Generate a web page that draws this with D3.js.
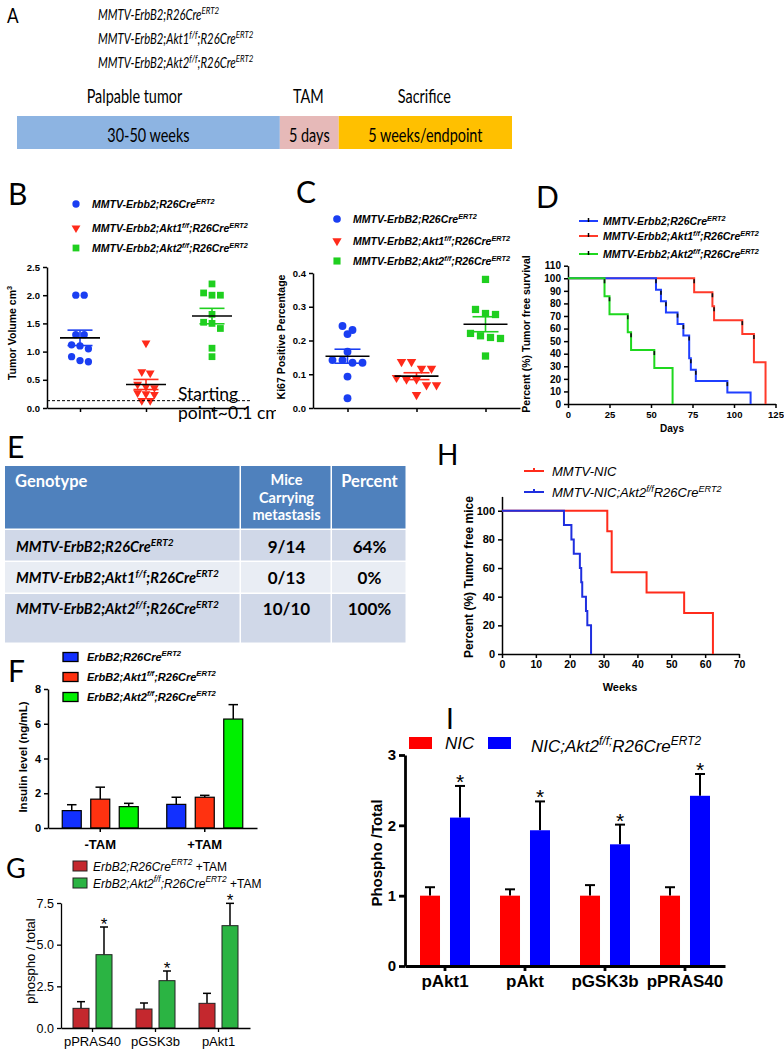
<!DOCTYPE html>
<html><head><meta charset="utf-8">
<script src="https://cdn.jsdelivr.net/npm/d3@7"></script>
<style>body{margin:0;background:#fff}svg{display:block}</style>
</head><body><svg id="c" width="784" height="1050"></svg>
<script>
// ---------------- DATA ----------------
// A: timeline
const cohortGenotypes = ["MMTV-ErbB2;R26Cre^{ERT2}", "MMTV-ErbB2;Akt1^{f/f};R26Cre^{ERT2}", "MMTV-ErbB2;Akt2^{f/f};R26Cre^{ERT2}"];
const timelineStages = ["Palpable tumor", "TAM", "Sacrifice"];
const timelineDurations = ["30-50 weeks", "5 days", "5 weeks/endpoint"];
// B: tumor volume
const tumorGroupsB = ["MMTV-Erbb2;R26Cre^{ERT2}", "MMTV-Erbb2;Akt1^{f/f};R26Cre^{ERT2}", "MMTV-Erbb2;Akt2^{f/f};R26Cre^{ERT2}"];
const tumorVolWT = [2.0, 2.0, 1.3, 1.3, 1.12, 1.1, 1.05, 0.91, 0.84, 0.82];
const tumorVolAkt1 = [1.15, 0.64, 0.62, 0.42, 0.38, 0.36, 0.27, 0.25, 0.24, 0.13, 0.13];
const tumorVolAkt2 = [2.2, 2.04, 2.0, 2.0, 1.66, 1.52, 1.5, 1.41, 1.06, 0.91];
const tumorTicks = [0, 0.5, 1.0, 1.5, 2.0, 2.5];
const startingPoint = 0.13;
// C: Ki67
const ki67Groups = ["MMTV-ErbB2;R26Cre^{ERT2}", "MMTV-ErbB2;Akt1^{f/f};R26Cre^{ERT2}", "MMTV-ErbB2;Akt2^{f/f};R26Cre^{ERT2}"];
const ki67WT = [0.243, 0.231, 0.219, 0.167, 0.142, 0.142, 0.134, 0.134, 0.093, 0.029];
const ki67Akt1 = [0.137, 0.137, 0.117, 0.117, 0.09, 0.085, 0.085, 0.068, 0.068, 0.039];
const ki67Akt2 = [0.381, 0.292, 0.28, 0.277, 0.221, 0.214, 0.209, 0.206, 0.154];
const ki67Ticks = [0, 0.1, 0.2, 0.3, 0.4];
// D: survival (days)
const survGroupsD = ["MMTV-Erbb2;R26Cre^{ERT2}", "MMTV-Erbb2;Akt1^{f/f};R26Cre^{ERT2}", "MMTV-Erbb2;Akt2^{f/f};R26Cre^{ERT2}"];
const kmWTdays = [53, 56, 59, 66, 69.5, 73, 74, 77, 96, 110];
const kmWTsurv = [90.9, 81.8, 72.7, 63.6, 54.5, 36.4, 27.3, 18.2, 9.1, 0];
const kmAkt1days = [76, 87, 88, 105, 112, 119];
const kmAkt1surv = [88.9, 77.8, 66.7, 55.6, 33.3, 0];
const kmAkt2days = [22, 25, 36, 38, 52, 63];
const kmAkt2surv = [85.7, 71.4, 57.1, 42.9, 28.6, 0];
const daysTicks = [0, 25, 50, 75, 100, 125];
const survTicks = [0, 10, 20, 30, 40, 50, 60, 70, 80, 90, 100, 110];
// E: metastasis table
const tableHeader = ["Genotype", "Mice\nCarrying\nmetastasis", "Percent"];
const metaGenotypes = ["MMTV-ErbB2;R26Cre^{ERT2}", "MMTV-ErbB2;Akt1^{f/f};R26Cre^{ERT2}", "MMTV-ErbB2;Akt2^{f/f};R26Cre^{ERT2}"];
const metaCarrying = ["9/14", "0/13", "10/10"];
const metaPercent = ["64%", "0%", "100%"];
// F: insulin
const insulinConditions = ["-TAM", "+TAM"];
const insulinGroups = ["ErbB2;R26Cre^{ERT2}", "ErbB2;Akt1^{f/f};R26Cre^{ERT2}", "ErbB2;Akt2^{f/f};R26Cre^{ERT2}"];
const insulinWT = [1.0, 1.36], insulinWTerr = [0.34, 0.41];
const insulinAkt1 = [1.66, 1.77], insulinAkt1err = [0.69, 0.11];
const insulinAkt2 = [1.23, 6.27], insulinAkt2err = [0.19, 0.83];
const insulinTicks = [0, 2, 4, 6, 8];
// G: phospho/total
const phosGroups = ["ErbB2;R26Cre^{ERT2}~{ +TAM}", "ErbB2;Akt2^{f/f};R26Cre^{ERT2}~{ +TAM}"];
const phosCats = ["pPRAS40", "pGSK3b", "pAkt1"];
const phosWT = [1.18, 1.14, 1.48], phosWTerr = [0.40, 0.36, 0.60];
const phosAkt2 = [4.40, 2.84, 6.14], phosAkt2err = [1.66, 0.58, 1.34];
const phosTicks = [0, 2.5, 5.0, 7.5];
// H: survival (weeks)
const nicGroupsH = ["MMTV-NIC", "MMTV-NIC;Akt2^{f/f}R26Cre^{ERT2}"];
const hNICweeks = [31.1, 32.4, 42.7, 53.8, 62.3];
const hNICsurv = [85.7, 57.1, 42.9, 28.6, 0];
const hAkt2weeks = [18.3, 20.5, 21.2, 23.0, 23.4, 23.7, 24.8, 25.2, 26.3];
const hAkt2surv = [90, 80, 70, 60, 50, 40, 30, 20, 0];
const weekTicks = [0, 10, 20, 30, 40, 50, 60, 70];
const hSurvTicks = [0, 20, 40, 60, 80, 100];
// I: NIC phospho
const nicGroupsI = ["NIC", "NIC;Akt2^{f/f;}R26Cre^{ERT2}"];
const nicCats = ["pAkt1", "pAkt", "pGSK3b", "pPRAS40"];
const nicWT = [1, 1, 1, 1], nicWTerr = [0.12, 0.09, 0.15, 0.12];
const nicAkt2 = [2.11, 1.93, 1.73, 2.42], nicAkt2err = [0.45, 0.41, 0.28, 0.31];
const nicTicks = [0, 1, 2, 3];

// ---------------- HELPERS ----------------
const svg = d3.select("#c");
svg.append("rect").attr("width", 784).attr("height", 1050).attr("fill", "#fff");
const ARIAL = "'Liberation Sans', Arial, sans-serif";
const CAL = "Lato, 'Open Sans', sans-serif";

function rich(g, str, o) {
  const size = o.size || 12;
  const t = g.append("text")
    .attr("x", o.x || 0).attr("y", o.y || 0)
    .attr("font-family", o.family || ARIAL).attr("font-size", size)
    .attr("font-weight", o.weight || "normal").attr("font-style", o.style || "normal")
    .attr("fill", o.fill || "#000").attr("text-anchor", o.anchor || "start");
  if (o.transform) t.attr("transform", o.transform);
  const parts = str.split(/(\^\{[^}]*\}|~\{[^}]*\})/).filter(s => s.length);
  let up = false;
  parts.forEach(p => {
    const ts = t.append("tspan");
    let m;
    if ((m = p.match(/^\^\{([^}]*)\}$/))) {
      ts.text(m[1]).attr("font-size", size * 0.7).attr("dy", -size * 0.42);
      up = true;
    } else {
      if ((m = p.match(/^~\{([^}]*)\}$/))) { ts.text(m[1]).attr("font-style", "normal"); }
      else ts.text(p);
      if (up) { ts.attr("dy", size * 0.42); up = false; }
    }
  });
  return t;
}
function styleAxis(sel, o) {
  sel.selectAll("path.domain").attr("stroke-width", o.sw || 1.5).attr("stroke", "#000");
  sel.selectAll(".tick line").attr("stroke-width", o.sw || 1.5).attr("stroke", "#000");
  sel.selectAll(".tick text").attr("font-family", ARIAL).attr("font-size", o.size)
    .attr("font-weight", o.weight || "bold").attr("fill", "#000");
}
function panelLetter(ch, x, y, size) {
  svg.append("text").attr("x", x).attr("y", y).attr("font-family", CAL)
    .attr("font-size", size || 30).attr("fill", "#000").text(ch);
}
function dotPlot(g, vals, cx, y, sym, color, gap, rowPx, rot, meanHalf, semHalf) {
  const s = vals.slice().sort((a, b) => b - a);
  const rows = [];
  s.forEach(v => {
    const last = rows[rows.length - 1];
    if (last && (y(v) - y(last[0])) < rowPx) last.push(v); else rows.push([v]);
  });
  const pts = [];
  rows.forEach(r => r.forEach((v, i) => pts.push({ v, dx: (i - (r.length - 1) / 2) * gap })));
  g.selectAll(null).data(pts).join("path")
    .attr("d", d3.symbol().type(sym.type).size(sym.size))
    .attr("transform", d => `translate(${cx + d.dx},${y(d.v)}) rotate(${rot || 0})`)
    .attr("fill", color);
  const m = d3.mean(vals), se = d3.deviation(vals) / Math.sqrt(vals.length);
  const sg = g.append("g").attr("stroke", color).attr("stroke-width", 1.6);
  sg.append("line").attr("x1", cx).attr("x2", cx).attr("y1", y(m + se)).attr("y2", y(m - se));
  [m + se, m - se].forEach(v => sg.append("line").attr("x1", cx - semHalf).attr("x2", cx + semHalf).attr("y1", y(v)).attr("y2", y(v)));
  g.append("line").attr("x1", cx - meanHalf).attr("x2", cx + meanHalf).attr("y1", y(m)).attr("y2", y(m))
    .attr("stroke", "#000").attr("stroke-width", 1.6);
}
const SYM = {
  circle: { type: d3.symbolCircle, size: 42 },
  tri: { type: d3.symbolTriangle, size: 34 },
  square: { type: d3.symbolSquare, size: 46 }
};

// ---------------- PANEL A ----------------
{
  const g = svg.append("g");
  const SX = 0.78;
  g.append("text").attr("transform", `translate(7,23) scale(${SX},1)`).attr("font-family", CAL)
    .attr("font-size", 22).text("A");
  const yA = d3.scalePoint().domain(d3.range(cohortGenotypes.length)).range([20, 68]);
  cohortGenotypes.forEach((s, i) => rich(g, s, { transform: `translate(98,${yA(i)}) scale(${SX},1)`, family: CAL, size: 14.5, style: "italic" }));
  const frac = [0, 0.531, 0.65, 1];
  const xA = d3.scaleLinear().domain([0, 1]).range([17, 512]);
  const cols = ["#8DB4E2", "#E6B9B8", "#FFC000"];
  timelineStages.forEach((s, i) => {
    const x0 = xA(frac[i]), x1 = xA(frac[i + 1]);
    g.append("rect").attr("x", x0).attr("y", 116).attr("width", x1 - x0).attr("height", 33).attr("fill", cols[i]);
    const cx = (x0 + x1) / 2;
    const hx = i === 0 ? cx - 14 : cx - 1;
    g.append("text").attr("transform", `translate(${hx},103) scale(${SX},1)`).attr("text-anchor", "middle")
      .attr("font-family", CAL).attr("font-size", 18.5).text(s);
    g.append("text").attr("transform", `translate(${cx},141.5) scale(${SX},1)`).attr("text-anchor", "middle")
      .attr("font-family", CAL).attr("font-size", 18.5).text(timelineDurations[i]);
  });
}

// ---------------- PANEL B ----------------
{
  const g = svg.append("g");
  panelLetter("B", 8, 205);
  const y = d3.scaleLinear().domain([0, 2.5]).range([408, 267]);
  const x = d3.scalePoint().domain([0, 1, 2]).range([47, 245]).padding(0.5);
  const colors = ["#1A3EF2", "#FF2A1A", "#1FCF1F"];
  const syms = [SYM.circle, SYM.tri, SYM.square];
  const rots = [0, 180, 0];
  const legY = [204, 228, 248];
  tumorGroupsB.forEach((s, i) => {
    g.append("path").attr("d", d3.symbol().type(syms[i].type).size(syms[i].size))
      .attr("transform", `translate(76,${legY[i]}) rotate(${rots[i]})`).attr("fill", colors[i]);
    rich(g, s, { x: 92, y: legY[i] + 4, size: 10.5, weight: "bold", style: "italic" });
  });
  g.append("g").attr("transform", "translate(47,0)")
    .call(d3.axisLeft(y).tickValues(tumorTicks).tickFormat(d3.format(".1f")).tickSize(4).tickSizeOuter(0))
    .call(styleAxis, { size: 9.5 });
  g.append("g").attr("transform", "translate(0,408)")
    .call(d3.axisBottom(x).tickFormat("").tickSize(4).tickSizeOuter(0))
    .call(styleAxis, { size: 9.5 });
  [tumorVolWT, tumorVolAkt1, tumorVolAkt2].forEach((vals, i) =>
    dotPlot(g, vals, x(i), y, syms[i], colors[i], 8.4, 7.5, rots[i], 20, 12.5));
  g.append("line").attr("x1", 47).attr("x2", 250).attr("y1", y(startingPoint)).attr("y2", y(startingPoint))
    .attr("stroke", "#000").attr("stroke-width", 1).attr("stroke-dasharray", "3,2");
  g.append("text").attr("x", 178).attr("y", 400).attr("font-family", CAL).attr("font-size", 17.5).text("Starting");
  svg.append("clipPath").attr("id", "clipB").append("rect").attr("x", 0).attr("y", 400).attr("width", 276).attr("height", 30);
  rich(g.append("g").attr("clip-path", "url(#clipB)"), "point~0.1 cm^{3}", { x: 178, y: 419, family: CAL, size: 17.5 });
  rich(g, "Tumor  Volume cm^{3}", { transform: "translate(16,333) rotate(-90)", anchor: "middle", size: 10.5, weight: "bold" });
}

// ---------------- PANEL C ----------------
{
  const g = svg.append("g");
  panelLetter("C", 296, 203);
  const y = d3.scaleLinear().domain([0, 0.4]).range([408, 273]);
  const x = d3.scalePoint().domain([0, 1, 2]).range([313, 520]).padding(0.5);
  const colors = ["#1A3EF2", "#FF2A1A", "#1FCF1F"];
  const syms = [SYM.circle, SYM.tri, SYM.square];
  const rots = [0, 180, 0];
  const legY = [219, 241, 261];
  ki67Groups.forEach((s, i) => {
    g.append("path").attr("d", d3.symbol().type(syms[i].type).size(syms[i].size * 1.1))
      .attr("transform", `translate(337,${legY[i]}) rotate(${rots[i]})`).attr("fill", colors[i]);
    rich(g, s, { x: 353, y: legY[i] + 4, size: 10.5, weight: "bold", style: "italic" });
  });
  g.append("g").attr("transform", "translate(313,0)")
    .call(d3.axisLeft(y).tickValues(ki67Ticks).tickFormat(d3.format(".1f")).tickSize(4).tickSizeOuter(0))
    .call(styleAxis, { size: 9.5 });
  g.append("g").attr("transform", "translate(0,408)")
    .call(d3.axisBottom(x).tickFormat("").tickSize(4).tickSizeOuter(0))
    .call(styleAxis, { size: 9.5 });
  [ki67WT, ki67Akt1, ki67Akt2].forEach((vals, i) =>
    dotPlot(g, vals, x(i), y, { type: syms[i].type, size: syms[i].size * 1.15 }, colors[i], 10, 7.5, rots[i], 22, 13));
  g.append("text").attr("transform", "translate(285,337) rotate(-90)").attr("text-anchor", "middle")
    .attr("font-family", ARIAL).attr("font-size", 10.5).attr("font-weight", "bold").text("Ki67 Positive Percentage");
}

// ---------------- PANEL D ----------------
{
  const g = svg.append("g");
  panelLetter("D", 536, 208);
  const x = d3.scaleLinear().domain([0, 125]).range([568, 775.5]);
  const y = d3.scaleLinear().domain([0, 110]).range([404, 265.7]);
  const colors = ["#1F3FFF", "#FF3A2A", "#1ED81E"];
  const legY = [221, 236, 254];
  survGroupsD.forEach((s, i) => {
    g.append("line").attr("x1", 579).attr("x2", 598).attr("y1", legY[i]).attr("y2", legY[i]).attr("stroke", colors[i]).attr("stroke-width", 2);
    g.append("line").attr("x1", 588.5).attr("x2", 588.5).attr("y1", legY[i] - 3).attr("y2", legY[i] + 1).attr("stroke", "#000").attr("stroke-width", 1.5);
    rich(g, s, { x: 603, y: legY[i] + 4, size: 10.5, weight: "bold", style: "italic" });
  });
  g.append("g").attr("transform", "translate(568,0)")
    .call(d3.axisLeft(y).tickValues(survTicks).tickSize(4).tickSizeOuter(0)).call(styleAxis, { size: 10 });
  g.append("g").attr("transform", "translate(0,404)")
    .call(d3.axisBottom(x).tickValues(daysTicks).tickSize(4).tickSizeOuter(0)).call(styleAxis, { size: 9.5 });
  const series = [[kmAkt1days, kmAkt1surv], [kmWTdays, kmWTsurv], [kmAkt2days, kmAkt2surv]];
  const colIdx = [1, 0, 2];
  const line = d3.line().x(d => x(d[0])).y(d => y(d[1])).curve(d3.curveStepAfter);
  series.forEach(([days, surv], k) => {
    const pts = [[0, 100]].concat(days.map((d, i) => [d, surv[i]]));
    g.append("path").attr("d", line(pts)).attr("fill", "none").attr("stroke", colors[colIdx[k]]).attr("stroke-width", 2);
    days.forEach((d, i) => {
      if (surv[i] === 0) return;
      const prev = i === 0 ? 100 : surv[i - 1];
      g.append("line").attr("x1", x(d)).attr("x2", x(d)).attr("y1", y(prev) + 1).attr("y2", y(prev) + 5)
        .attr("stroke", "#111").attr("stroke-width", 1.6);
    });
  });
  g.append("text").attr("transform", "translate(530,334) rotate(-90)").attr("text-anchor", "middle")
    .attr("font-family", ARIAL).attr("font-size", 10.5).attr("font-weight", "bold").text("Percent (%) Tumor free survival");
  g.append("text").attr("x", 672).attr("y", 432).attr("text-anchor", "middle")
    .attr("font-family", ARIAL).attr("font-size", 10).attr("font-weight", "bold").text("Days");
}

// ---------------- PANEL E ----------------
{
  const g = svg.append("g");
  panelLetter("E", 7, 458);
  const colX = [5, 241, 332, 407];
  const rowY = [466, 530, 562, 594, 644];
  const fills = ["#4F81BD", "#D0D8E8", "#E9EDF4", "#D0D8E8"];
  for (let r = 0; r < 4; r++) for (let c = 0; c < 3; c++) {
    g.append("rect").attr("x", colX[c]).attr("y", rowY[r]).attr("width", colX[c + 1] - colX[c] - 1.5)
      .attr("height", rowY[r + 1] - rowY[r] - 1.5).attr("fill", fills[r]);
  }
  const cxs = [15, (colX[1] + colX[2]) / 2, (colX[2] + colX[3]) / 2];
  tableHeader.forEach((h, c) => {
    const lines = h.split("\n");
    lines.forEach((ln, k) => {
      g.append("text").attr("x", cxs[c]).attr("y", lines.length > 1 ? 485 + k * 17.5 : 487)
        .attr("text-anchor", c === 0 ? "start" : "middle").attr("font-family", CAL).attr("font-weight", "bold")
        .attr("font-size", lines.length > 1 ? 14.5 : 16.5).attr("fill", "#fff").text(ln);
    });
  });
  const base = [552, 583, 614];
  metaGenotypes.forEach((s, r) => {
    rich(g, s, { x: 16, y: base[r], family: CAL, size: 14.5, weight: "bold", style: "italic" });
    g.append("text").attr("x", cxs[1]).attr("y", base[r] + 1).attr("text-anchor", "middle").attr("font-family", CAL)
      .attr("font-weight", "bold").attr("font-size", 17).text(metaCarrying[r]);
    g.append("text").attr("x", cxs[2]).attr("y", base[r] + 1).attr("text-anchor", "middle").attr("font-family", CAL)
      .attr("font-weight", "bold").attr("font-size", 17).text(metaPercent[r]);
  });
}

// ---------------- PANEL F ----------------
{
  const g = svg.append("g");
  panelLetter("F", 8, 682);
  const y = d3.scaleLinear().domain([0, 8]).range([828, 689]);
  const x = d3.scaleBand().domain(insulinConditions).range([48, 257]);
  const colors = ["#1230FF", "#FF3210", "#00F000"];
  const legY = [657, 677, 697];
  insulinGroups.forEach((s, i) => {
    g.append("rect").attr("x", 63).attr("y", legY[i] - 4.5).attr("width", 15).attr("height", 9)
      .attr("fill", colors[i]).attr("stroke", "#000").attr("stroke-width", 1.3);
    rich(g, s, { x: 87, y: legY[i] + 4, size: 11, weight: "bold", style: "italic" });
  });
  const vals = [insulinWT, insulinAkt1, insulinAkt2], errs = [insulinWTerr, insulinAkt1err, insulinAkt2err];
  insulinConditions.forEach((cond, ci) => {
    const cx = x(cond) + x.bandwidth() / 2;
    const inner = d3.scaleBand().domain([0, 1, 2]).range([cx - 38, cx + 38]).paddingInner(0.333);
    [0, 1, 2].forEach(s => {
      const v = vals[s][ci], e = errs[s][ci], bx = inner(s), bw = inner.bandwidth();
      g.append("line").attr("x1", bx + bw / 2).attr("x2", bx + bw / 2).attr("y1", y(v)).attr("y2", y(v + e)).attr("stroke", "#000").attr("stroke-width", 1.5);
      g.append("line").attr("x1", bx + bw / 4).attr("x2", bx + bw * 3 / 4).attr("y1", y(v + e)).attr("y2", y(v + e)).attr("stroke", "#000").attr("stroke-width", 1.5);
      g.append("rect").attr("x", bx).attr("y", y(v)).attr("width", bw).attr("height", y(0) - y(v))
        .attr("fill", colors[s]).attr("stroke", "#000").attr("stroke-width", 1.2);
    });
  });
  g.append("g").attr("transform", "translate(48,0)")
    .call(d3.axisLeft(y).tickValues(insulinTicks).tickSize(4).tickSizeOuter(0)).call(styleAxis, { size: 11 });
  g.append("g").attr("transform", "translate(0,828)")
    .call(d3.axisBottom(x).tickSize(4).tickSizeOuter(0).tickPadding(8)).call(styleAxis, { size: 13 });
  g.append("text").attr("transform", "translate(27,757) rotate(-90)").attr("text-anchor", "middle")
    .attr("font-family", ARIAL).attr("font-size", 11.5).attr("font-weight", "bold").text("Insulin level (ng/mL)");
}

// ---------------- PANEL G ----------------
{
  const g = svg.append("g");
  panelLetter("G", 6, 878, 27);
  const y = d3.scaleLinear().domain([0, 7.5]).range([1028, 903]);
  const x = d3.scaleBand().domain(phosCats).range([61, 250]);
  const colors = ["#C4282E", "#2BB443"];
  const legY = [866, 883];
  phosGroups.forEach((s, i) => {
    g.append("rect").attr("x", 73).attr("y", legY[i] - 5).attr("width", 14).attr("height", 10)
      .attr("fill", colors[i]).attr("stroke", "#222").attr("stroke-width", 1);
    rich(g, s, { x: 93, y: legY[i] + 4.5, size: 12, style: "italic" });
  });
  const vals = [phosWT, phosAkt2], errs = [phosWTerr, phosAkt2err];
  phosCats.forEach((c, ci) => {
    const cx = x(c) + x.bandwidth() / 2;
    const inner = d3.scaleBand().domain([0, 1]).range([cx - 19.5, cx + 19.5]).paddingInner(0.304);
    [0, 1].forEach(s => {
      const v = vals[s][ci], e = errs[s][ci], bx = inner(s), bw = inner.bandwidth();
      g.append("line").attr("x1", bx + bw / 2).attr("x2", bx + bw / 2).attr("y1", y(v)).attr("y2", y(v + e)).attr("stroke", "#000").attr("stroke-width", 1.5);
      g.append("line").attr("x1", bx + bw / 4).attr("x2", bx + bw * 3 / 4).attr("y1", y(v + e)).attr("y2", y(v + e)).attr("stroke", "#000").attr("stroke-width", 1.5);
      g.append("rect").attr("x", bx).attr("y", y(v)).attr("width", bw).attr("height", y(0) - y(v))
        .attr("fill", colors[s]).attr("stroke", "#222").attr("stroke-width", 1);
      if (s === 1) g.append("text").attr("x", bx + bw / 2).attr("y", y(v + e) + 3).attr("text-anchor", "middle")
        .attr("font-family", ARIAL).attr("font-size", 17).text("*");
    });
  });
  g.append("g").attr("transform", "translate(61,0)")
    .call(d3.axisLeft(y).tickValues(phosTicks).tickFormat(d3.format(".1f")).tickSize(4).tickSizeOuter(0))
    .call(styleAxis, { size: 12.5, weight: "normal", sw: 1.3 });
  g.append("g").attr("transform", "translate(0,1028)")
    .call(d3.axisBottom(x).tickSize(4).tickSizeOuter(0).tickPadding(5)).call(styleAxis, { size: 13, weight: "normal", sw: 1.3 });
  g.append("text").attr("transform", "translate(35,961) rotate(-90)").attr("text-anchor", "middle")
    .attr("font-family", ARIAL).attr("font-size", 13).text("phospho / total");
}

// ---------------- PANEL H ----------------
{
  const g = svg.append("g");
  panelLetter("H", 437, 465, 28);
  const x = d3.scaleLinear().domain([0, 70]).range([502, 739]);
  const y = d3.scaleLinear().domain([0, 110]).range([654, 496.4]);
  const colors = ["#FF2B1B", "#1F2FDF"];
  const legY = [471, 492];
  nicGroupsH.forEach((s, i) => {
    g.append("line").attr("x1", 524).attr("x2", 544).attr("y1", legY[i]).attr("y2", legY[i]).attr("stroke", colors[i]).attr("stroke-width", 2);
    g.append("line").attr("x1", 534).attr("x2", 534).attr("y1", legY[i] - 3).attr("y2", legY[i] + 1).attr("stroke", colors[i]).attr("stroke-width", 2);
    rich(g, s, { x: 552, y: legY[i] + 5, size: 13, style: "italic" });
  });
  g.append("g").attr("transform", "translate(502,0)")
    .call(d3.axisLeft(y).tickValues(hSurvTicks).tickSize(4).tickSizeOuter(0)).call(styleAxis, { size: 11 });
  g.append("g").attr("transform", "translate(0,654)")
    .call(d3.axisBottom(x).tickValues(weekTicks).tickSize(4).tickSizeOuter(0)).call(styleAxis, { size: 10.5 });
  const line = d3.line().x(d => x(d[0])).y(d => y(d[1])).curve(d3.curveStepAfter);
  [[hNICweeks, hNICsurv], [hAkt2weeks, hAkt2surv]].forEach(([w, s], k) => {
    const pts = [[0, 100]].concat(w.map((d, i) => [d, s[i]]));
    g.append("path").attr("d", line(pts)).attr("fill", "none").attr("stroke", colors[k]).attr("stroke-width", 2);
  });
  g.append("text").attr("transform", "translate(473,577) rotate(-90)").attr("text-anchor", "middle")
    .attr("font-family", ARIAL).attr("font-size", 12).attr("font-weight", "bold").text("Percent (%) Tumor free mice");
  g.append("text").attr("x", 620).attr("y", 691).attr("text-anchor", "middle")
    .attr("font-family", ARIAL).attr("font-size", 11).attr("font-weight", "bold").text("Weeks");
}

// ---------------- PANEL I ----------------
{
  const g = svg.append("g");
  panelLetter("I", 446, 729, 28);
  const y = d3.scaleLinear().domain([0, 3]).range([966, 755]);
  const x = d3.scaleBand().domain(nicCats).range([405, 725]);
  const colors = ["#FF0000", "#0000FF"];
  g.append("rect").attr("x", 409).attr("y", 737).attr("width", 23).attr("height", 12).attr("fill", colors[0]);
  g.append("rect").attr("x", 488).attr("y", 737).attr("width", 23).attr("height", 12).attr("fill", colors[1]);
  rich(g, nicGroupsI[0], { x: 445, y: 749, size: 17, style: "italic" });
  rich(g, nicGroupsI[1], { x: 531, y: 752, size: 17, style: "italic" });
  const vals = [nicWT, nicAkt2], errs = [nicWTerr, nicAkt2err];
  nicCats.forEach((c, ci) => {
    const cx = x(c) + x.bandwidth() / 2;
    const inner = d3.scaleBand().domain([0, 1]).range([cx - 25, cx + 25]).paddingInner(0.333);
    [0, 1].forEach(s => {
      const v = vals[s][ci], e = errs[s][ci], bx = inner(s), bw = inner.bandwidth();
      g.append("line").attr("x1", bx + bw / 2).attr("x2", bx + bw / 2).attr("y1", y(v)).attr("y2", y(v + e)).attr("stroke", "#000").attr("stroke-width", 2);
      g.append("line").attr("x1", bx + bw / 4).attr("x2", bx + bw * 3 / 4).attr("y1", y(v + e)).attr("y2", y(v + e)).attr("stroke", "#000").attr("stroke-width", 2);
      g.append("rect").attr("x", bx).attr("y", y(v)).attr("width", bw).attr("height", y(0) - y(v)).attr("fill", colors[s]);
      if (s === 1) g.append("text").attr("x", bx + bw / 2).attr("y", y(v + e) + 3).attr("text-anchor", "middle")
        .attr("font-family", ARIAL).attr("font-size", 21).text("*");
    });
  });
  g.append("g").attr("transform", "translate(405,0)")
    .call(d3.axisLeft(y).tickValues(nicTicks).tickFormat(d3.format("d")).tickSize(6).tickSizeOuter(0)).call(styleAxis, { size: 15, sw: 2.8 });
  g.append("g").attr("transform", "translate(0,966)")
    .call(d3.axisBottom(x).tickSize(5).tickSizeOuter(0).tickPadding(4)).call(styleAxis, { size: 17, sw: 2.8 });
  g.append("text").attr("transform", "translate(382,853) rotate(-90)").attr("text-anchor", "middle")
    .attr("font-family", ARIAL).attr("font-size", 15).attr("font-weight", "bold").text("Phospho /Total");
}
</script></body></html>
